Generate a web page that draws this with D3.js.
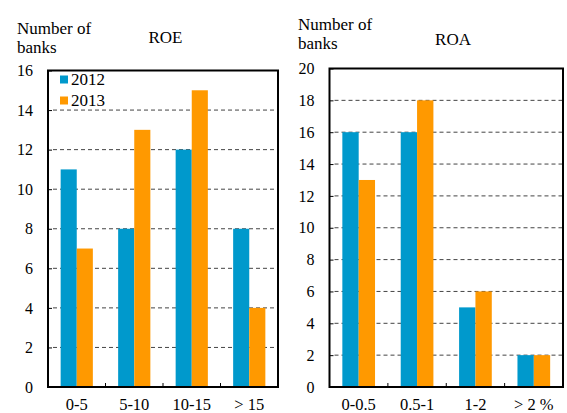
<!DOCTYPE html>
<html>
<head>
<meta charset="utf-8">
<script src="https://cdn.jsdelivr.net/npm/d3@7"></script>
<style>
  html, body { margin: 0; padding: 0; background: #fff; }
  svg { display: block; }
</style>
</head>
<body>
<svg id="chart" width="567" height="413"></svg>
<script>
// Distribution of banks by profitability
const series = ["2012", "2013"];
const colors = ["#0099cc", "#ff9900"];

const roeCategories = ["0-5", "5-10", "10-15", "> 15"];
const roe2012 = [11, 8, 12, 8];
const roe2013 = [7, 13, 15, 4];
const roeTicks = [0, 2, 4, 6, 8, 10, 12, 14, 16];

const roaCategories = ["0-0.5", "0.5-1", "1-2", "> 2 %"];
const roa2012 = [16, 16, 5, 2];
const roa2013 = [13, 18, 6, 2];
const roaTicks = [0, 2, 4, 6, 8, 10, 12, 14, 16, 18, 20];

const FONT = "'Liberation Serif'";
const svg = d3.select("#chart");

function label(sel, size) {
  return sel.style("font-family", FONT).attr("font-size", size).attr("fill", "#000");
}

function panel(opts) {
  const { left, right, top, bottom, categories, values, ticks, title, titleX, unitY, legend } = opts;
  const g = svg.append("g");
  const yMax = ticks[ticks.length - 1];
  const y = d3.scaleLinear().domain([0, yMax]).range([bottom, top]);
  const x = d3.scaleBand().domain(categories).range([left, right]);
  const bw = x.bandwidth();
  const xs = d3.scaleBand().domain(series).range([bw * 0.22, bw * 0.78]);

  // dashed gridlines
  g.selectAll("line.grid")
    .data(ticks.filter(t => t > 0 && t < yMax))
    .join("line")
    .attr("x1", left + 5).attr("x2", right)
    .attr("y1", d => y(d)).attr("y2", d => y(d))
    .attr("stroke", "#444").attr("stroke-width", 1)
    .attr("stroke-dasharray", "4,3");

  // bars
  const rows = categories.map((c, i) => ({ c, v: series.map((s, j) => ({ s, j, val: values[j][i] })) }));
  g.selectAll("g.grp").data(rows).join("g")
    .attr("transform", d => `translate(${x(d.c)},0)`)
    .selectAll("rect").data(d => d.v).join("rect")
    .attr("x", d => xs(d.s)).attr("width", xs.bandwidth())
    .attr("y", d => y(d.val)).attr("height", d => y(0) - y(d.val))
    .attr("fill", d => colors[d.j]);

  // y axis labels and inward ticks
  const yAxis = d3.axisLeft(y).tickValues(ticks).tickSize(-4).tickPadding(15).tickFormat(d3.format("d"));
  const ya = g.append("g").attr("transform", `translate(${left},0)`).call(yAxis);
  ya.select(".domain").remove();
  ya.selectAll("line").attr("stroke", "#000");
  label(ya.selectAll("text"), 16);

  // x axis: ticks at category boundaries, pointing inward
  const bounds = categories.slice(1).map(c => x(c));
  g.selectAll("line.xt").data(bounds).join("line")
    .attr("x1", d => d).attr("x2", d => d)
    .attr("y1", bottom).attr("y2", bottom - 4)
    .attr("stroke", "#000").attr("stroke-width", 1);
  label(g.selectAll("text.xl").data(categories).join("text"), 16.5)
    .attr("x", d => x(d) + bw / 2).attr("y", 410)
    .attr("text-anchor", "middle")
    .text(d => d);

  // frame
  g.append("rect")
    .attr("x", left).attr("y", top).attr("width", right - left).attr("height", bottom - top)
    .attr("fill", "none").attr("stroke", "#000").attr("stroke-width", 2);

  // titles
  label(g.append("text"), 17).attr("x", unitY.x).attr("y", unitY.y).text("Number of");
  label(g.append("text"), 17).attr("x", unitY.x).attr("y", unitY.y + 19).text("banks");
  label(g.append("text"), 17).attr("x", titleX).attr("y", unitY.y + unitY.titleDy)
    .attr("text-anchor", "middle").text(title);

  if (legend) {
    const lg = g.append("g");
    series.forEach((s, i) => {
      lg.append("rect").attr("x", left + 12).attr("y", top + 5 + i * 21).attr("width", 8).attr("height", 8).attr("fill", colors[i]);
      label(lg.append("text"), 17).attr("x", left + 23).attr("y", top + 14.5 + i * 21).text(s);
    });
  }
}

panel({
  left: 48, right: 278, top: 70.5, bottom: 387,
  categories: roeCategories, values: [roe2012, roe2013], ticks: roeTicks,
  title: "ROE", titleX: 165.5, unitY: { x: 17, y: 34, titleDy: 9 }, legend: true
});

panel({
  left: 329.5, right: 563, top: 68.5, bottom: 387,
  categories: roaCategories, values: [roa2012, roa2013], ticks: roaTicks,
  title: "ROA", titleX: 453, unitY: { x: 298, y: 29.5, titleDy: 15.5 }, legend: false
});
</script>
</body>
</html>
